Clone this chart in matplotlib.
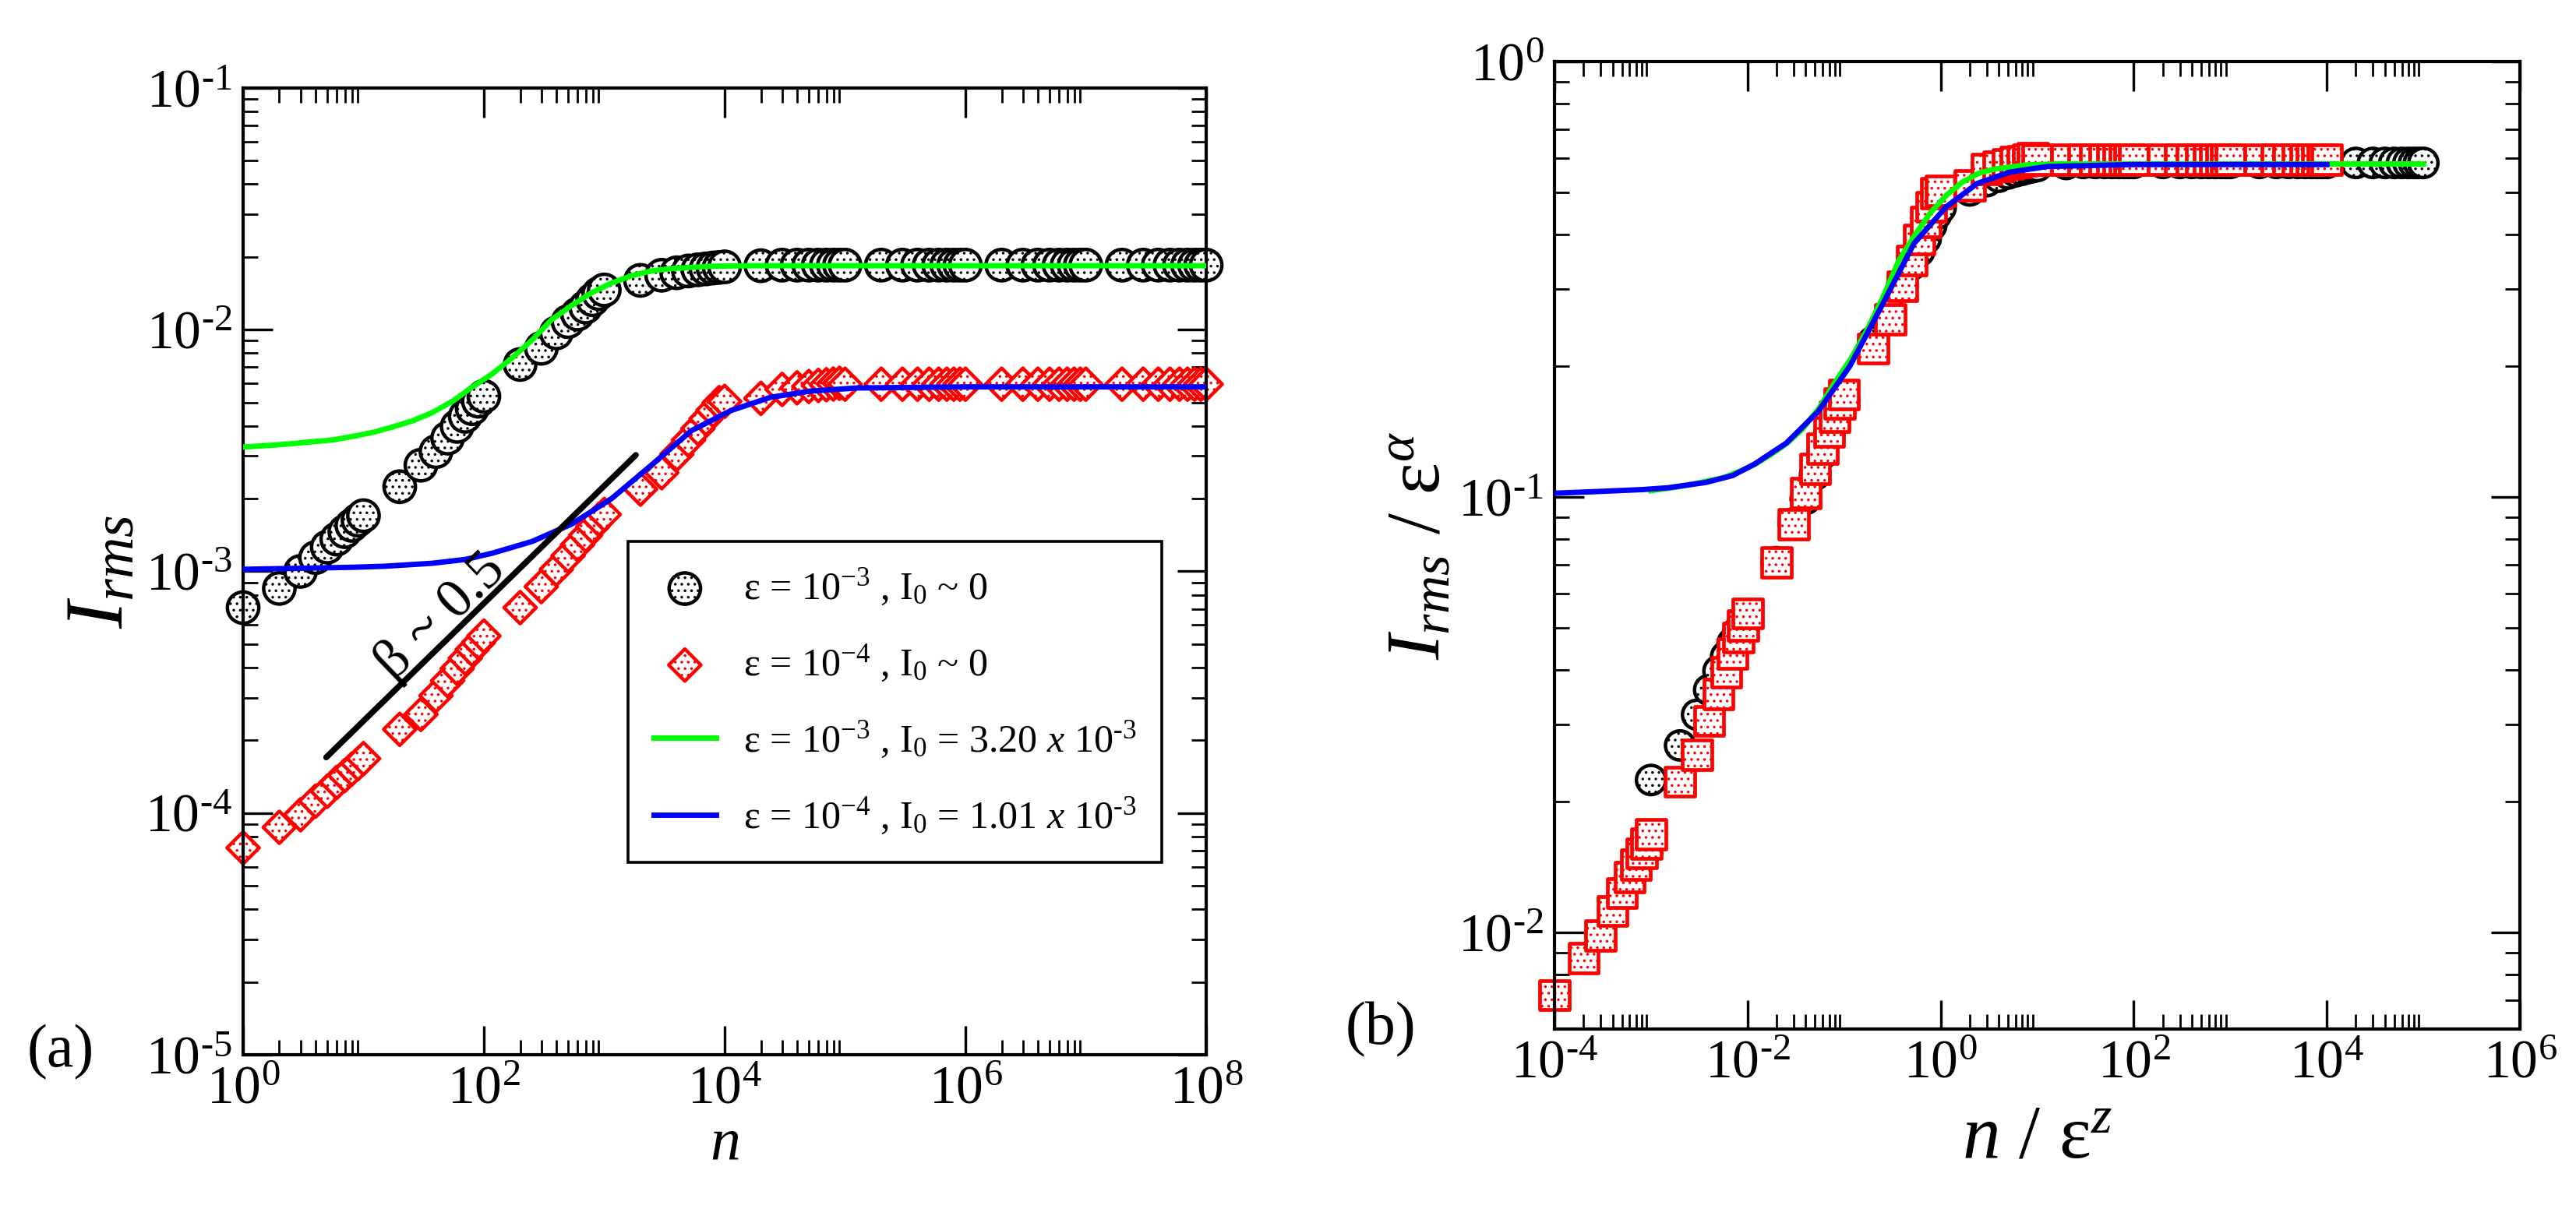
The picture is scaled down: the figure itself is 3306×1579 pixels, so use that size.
import matplotlib
matplotlib.use("Agg")
import matplotlib.pyplot as plt
import numpy as np
from matplotlib.ticker import FixedLocator, LogLocator, NullFormatter, FuncFormatter

plt.rcParams['font.family'] = ['Liberation Serif', 'DejaVu Serif']
plt.rcParams['mathtext.fontset'] = 'custom'
plt.rcParams['mathtext.rm'] = 'Liberation Serif'
plt.rcParams['mathtext.it'] = 'Liberation Serif:italic'
plt.rcParams['mathtext.bf'] = 'Liberation Serif:bold'
plt.rcParams['hatch.linewidth'] = 1.3

################################################################################################################
# data
################################################################################################################

# iteration numbers: 1..9 times each decade, plus the last point
n_mult = [1, 2, 3, 4, 5, 6, 7, 8, 9]
n_decades = [1e0, 1e1, 1e2, 1e3, 1e4, 1e5, 1e6, 1e7]
n_last = 1e8
n = np.array([m * d for d in n_decades for m in n_mult] + [n_last])

# eps = 1e-3, I0 ~ 0 (black circles)
I_eps3 = np.array([
    7.08e-4, 8.50e-4, 1.00e-3, 1.14e-3, 1.26e-3, 1.36e-3, 1.46e-3, 1.55e-3, 1.63e-3,
    1.70e-3, 2.24e-3, 2.75e-3, 3.13e-3, 3.56e-3, 3.98e-3, 4.38e-3, 4.71e-3, 5.06e-3,
    5.30e-3, 7.18e-3, 8.38e-3, 9.70e-3, 1.08e-2, 1.16e-2, 1.24e-2, 1.33e-2, 1.41e-2,
    1.46e-2, 1.60e-2, 1.68e-2, 1.72e-2, 1.75e-2, 1.77e-2, 1.785e-2, 1.80e-2, 1.81e-2,
    1.82e-2, 1.84e-2, 1.85e-2, 1.85e-2, 1.85e-2, 1.85e-2, 1.85e-2, 1.85e-2, 1.85e-2,
    1.85e-2, 1.85e-2, 1.85e-2, 1.85e-2, 1.85e-2, 1.85e-2, 1.85e-2, 1.85e-2, 1.85e-2,
    1.85e-2, 1.85e-2, 1.85e-2, 1.85e-2, 1.85e-2, 1.85e-2, 1.85e-2, 1.85e-2, 1.85e-2,
    1.85e-2, 1.85e-2, 1.85e-2, 1.85e-2, 1.85e-2, 1.85e-2, 1.85e-2, 1.85e-2, 1.85e-2,
    1.85e-2,
])

# eps = 1e-4, I0 ~ 0 (red diamonds)
I_eps4 = np.array([
    7.18e-5, 8.73e-5, 9.84e-5, 1.12e-4, 1.23e-4, 1.34e-4, 1.43e-4, 1.52e-4, 1.60e-4,
    1.68e-4, 2.22e-4, 2.56e-4, 3.06e-4, 3.53e-4, 3.96e-4, 4.37e-4, 4.75e-4, 5.07e-4,
    5.40e-4, 7.08e-4, 8.65e-4, 1.02e-3, 1.16e-3, 1.29e-3, 1.41e-3, 1.53e-3, 1.64e-3,
    1.72e-3, 2.19e-3, 2.56e-3, 3.05e-3, 3.49e-3, 3.90e-3, 4.28e-3, 4.64e-3, 4.99e-3,
    5.05e-3, 5.20e-3, 5.66e-3, 5.75e-3, 5.82e-3, 5.88e-3, 5.92e-3, 5.96e-3, 6.00e-3,
    5.95e-3, 5.95e-3, 5.95e-3, 5.95e-3, 5.95e-3, 5.95e-3, 5.95e-3, 5.95e-3, 5.95e-3,
    5.95e-3, 5.95e-3, 5.95e-3, 5.95e-3, 5.95e-3, 5.95e-3, 5.95e-3, 5.95e-3, 5.95e-3,
    5.95e-3, 5.95e-3, 5.95e-3, 5.95e-3, 5.95e-3, 5.95e-3, 5.95e-3, 5.95e-3, 5.95e-3,
    5.95e-3,
])

# fitted curves
fit3_n = [1, 1.8, 2.6, 3.8, 5.6, 8.2, 12, 17.5, 25.6, 37, 55, 80, 117, 171, 251, 365,
          537, 780, 1150, 1670, 2450, 3560, 7600, 16300, 1e5, 1e6, 1e7, 1e8]
fit3_I = [3.27e-3, 3.33e-3, 3.38e-3, 3.44e-3, 3.50e-3, 3.62e-3, 3.76e-3, 3.96e-3, 4.20e-3,
          4.53e-3, 5.06e-3, 5.79e-3, 6.56e-3, 7.62e-3, 9.06e-3, 1.10e-2, 1.26e-2, 1.42e-2,
          1.56e-2, 1.67e-2, 1.75e-2, 1.79e-2, 1.83e-2, 1.84e-2, 1.84e-2, 1.84e-2, 1.84e-2,
          1.84e-2]

fit4_n = [1, 3, 8.2, 15, 37, 70, 118, 252, 537, 1150, 2460, 5290, 11300, 24000, 51500,
          126000, 1e6, 1e7, 1e8]
fit4_I = [1.02e-3, 1.03e-3, 1.04e-3, 1.05e-3, 1.08e-3, 1.12e-3, 1.19e-3, 1.33e-3, 1.57e-3,
          2.00e-3, 2.75e-3, 3.82e-3, 4.63e-3, 5.25e-3, 5.57e-3, 5.74e-3, 5.80e-3, 5.80e-3,
          5.80e-3]

# slope guide
guide_n = [4.9, 1830]
guide_I = [1.7e-4, 3.03e-3]

# scaling exponents
eps_3 = 1e-3
eps_4 = 1e-4
alpha = 0.5
z = -1.0

labels = [
    r'ε = 10$^{-3}$ , I$_0$ ~ 0',
    r'ε = 10$^{-4}$ , I$_0$ ~ 0',
    r'ε = 10$^{-3}$ , I$_0$ = 3.20 $x$ 10$^{\text{-}3}$',
    r'ε = 10$^{-4}$ , I$_0$ = 1.01 $x$ 10$^{\text{-}3}$',
]


def pow10_label(v, pos):
    e = int(round(np.log10(v)))
    if e < 0:
        return r'$\mathdefault{10^{\text{-}%d}}$' % (-e)
    return r'$\mathdefault{10^{%d}}$' % e


################################################################################################################

fig = plt.figure(figsize=(33.06, 15.79), dpi=100)
ax1 = fig.add_axes([0.09437, 0.14250, 0.37387, 0.78594])
ax2 = fig.add_axes([0.60345, 0.16339, 0.37477, 0.78657])

circle_kw = dict(marker='o', s=29 ** 2, facecolors='white', edgecolors='black',
                 linewidths=3.2, hatch='..', clip_on=False, zorder=2)
diamond_kw = dict(marker='D', s=21 ** 2, facecolors='white', edgecolors='red',
                  linewidths=3.2, hatch='..', clip_on=False, zorder=2)
square_kw = dict(marker='s', s=27 ** 2, facecolors='white', edgecolors='red',
                 linewidths=3.4, hatch='..', clip_on=False, zorder=2)
circle2_kw = dict(circle_kw, s=27 ** 2)

# ---- panel (a)
h1 = ax1.scatter(n, I_eps3, **circle_kw)
h2 = ax1.scatter(n, I_eps4, **diamond_kw)
h3, = ax1.plot(fit3_n, fit3_I, color='#00ff00', lw=5, zorder=3)
h4, = ax1.plot(fit4_n, fit4_I, color='#0000ff', lw=5, zorder=3)
ax1.plot(guide_n, guide_I, color='black', lw=5.5, solid_capstyle='round', zorder=4)
ax1.text(44, 6.5e-4, 'β ~ 0.5', fontsize=52, rotation=44, rotation_mode='anchor',
         ha='center', va='center')

ax1.set_xscale('log')
ax1.set_yscale('log')
ax1.set_xlim(1, 1e8)
ax1.set_ylim(1e-5, 1e-1)
ax1.xaxis.set_major_locator(FixedLocator([1e0, 1e2, 1e4, 1e6, 1e8]))
ax1.xaxis.set_minor_locator(FixedLocator([m * 10.0 ** d for d in (0, 2, 4, 6) for m in range(2, 10)]))
ax1.set_xlabel(r'$n$', fontsize=56, labelpad=2)
ax1.set_ylabel(r'$I_{rms}$', fontsize=76, labelpad=4)

leg = ax1.legend([h1, h2, h3, h4], labels, loc='upper left', bbox_to_anchor=(0.40, 0.531),
                 borderaxespad=0, fontsize=36, frameon=True, fancybox=False, framealpha=1,
                 edgecolor='black', scatterpoints=1, handlelength=1.6, handletextpad=0.7,
                 labelspacing=0.92, borderpad=0.65)
leg.get_frame().set_linewidth(2.6)

# ---- panel (b)
ax2.scatter(n / eps_3 ** z, I_eps3 / eps_3 ** alpha, **circle2_kw)
ax2.scatter(n / eps_4 ** z, I_eps4 / eps_4 ** alpha, **square_kw)
ax2.plot(np.array(fit3_n) / eps_3 ** z, np.array(fit3_I) / eps_3 ** alpha, color='#00ff00', lw=5, zorder=3)
ax2.plot(np.array(fit4_n) / eps_4 ** z, np.array(fit4_I) / eps_4 ** alpha, color='#0000ff', lw=5, zorder=3)

ax2.set_xscale('log')
ax2.set_yscale('log')
ax2.set_xlim(1e-4, 1e6)
ax2.set_ylim(6e-3, 1)
ax2.xaxis.set_major_locator(FixedLocator([1e-4, 1e-2, 1e0, 1e2, 1e4, 1e6]))
ax2.xaxis.set_minor_locator(FixedLocator([m * 10.0 ** d for d in (-4, -2, 0, 2, 4) for m in range(2, 10)]))
ax2.set_xlabel(r'$n$ / ε$^{z}$', fontsize=70, labelpad=14)
ax2.set_ylabel(r'$I_{rms}$ / ε$^{\alpha}$', fontsize=70, labelpad=2)

for ax in (ax1, ax2):
    ax.yaxis.set_major_locator(LogLocator(base=10, numticks=12))
    ax.yaxis.set_minor_locator(LogLocator(base=10, subs=range(2, 10), numticks=12))
    ax.xaxis.set_major_formatter(FuncFormatter(pow10_label))
    ax.yaxis.set_major_formatter(FuncFormatter(pow10_label))
    ax.xaxis.set_minor_formatter(NullFormatter())
    ax.yaxis.set_minor_formatter(NullFormatter())
    ax.tick_params(which='both', direction='in', top=True, right=True, labelsize=50)
    ax.tick_params(which='major', length=27, width=2.4, pad=10)
    ax.tick_params(which='minor', length=14, width=2.0)
    for sp in ax.spines.values():
        sp.set_linewidth(3)

fig.text(0.0236, 0.145, '(a)', fontsize=56, ha='center', va='center')
fig.text(0.536, 0.163, '(b)', fontsize=56, ha='center', va='center')

fig.savefig('out.png', dpi=100)
